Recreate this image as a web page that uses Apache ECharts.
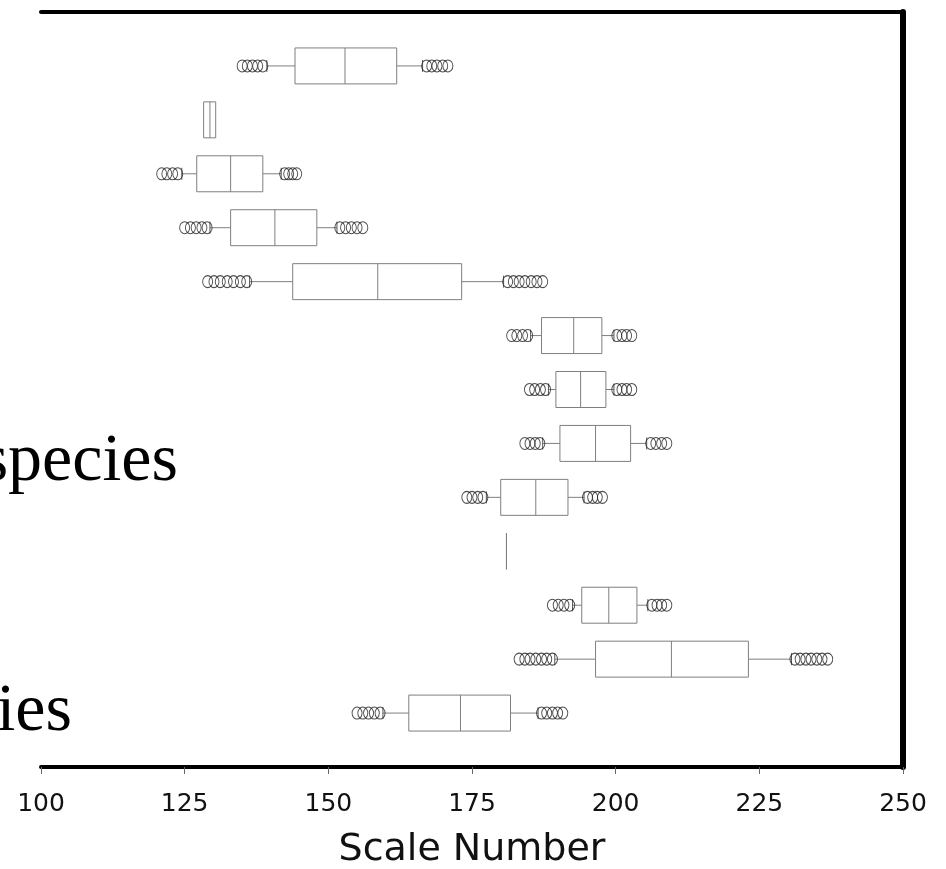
<!DOCTYPE html>
<html>
	<head>
		<meta http-equiv="Content-Type" content="text/html;charset=utf-8" />
		<title>Scale Number boxplot</title>
		<script src="https://cdn.jsdelivr.net/npm/echarts@6/dist/echarts.min.js"></script>
		<style>
			html, body { margin: 0; padding: 0; background: #fff; }
			#container { width: 946px; height: 869px; }
		</style>
	</head>
	<body>
		<div id="container"></div>
		<script type="text/javascript">
			// one row per box, top to bottom (row 1 .. 13 on the y scale)
			var lowWhisker  = [139.3, 128.3, 124.5, 129.4, 136.3, 185.2, 188.3, 187.3, 177.5, 181.0, 192.5, 189.4, 159.5];
			var q1          = [144.2, 128.3, 127.1, 133.0, 143.8, 187.1, 189.6, 190.3, 180.0, 181.0, 194.1, 196.5, 164.0];
			var median      = [152.9, 129.4, 133.0, 140.7, 158.6, 192.7, 193.9, 196.5, 186.1, 181.0, 198.8, 209.7, 173.0];
			var q3          = [161.9, 130.4, 138.6, 148.0, 173.2, 197.6, 198.3, 202.6, 191.7, 181.0, 203.7, 223.1, 181.7];
			var highWhisker = [166.4, 130.4, 141.8, 151.5, 180.5, 199.7, 199.7, 205.4, 194.5, 181.0, 205.6, 230.6, 186.5];

			var lowOutliers = [
				[135.0, 135.9, 136.8, 137.7, 138.6],
				[],
				[121.0, 121.9, 122.9, 123.8],
				[125.0, 126.0, 127.0, 128.0, 128.9],
				[129.0, 130.1, 131.2, 132.4, 133.5, 134.7, 135.8],
				[181.9, 182.8, 183.8, 184.7],
				[185.0, 185.9, 186.9, 187.8],
				[184.2, 185.1, 186.0, 186.8],
				[174.1, 175.0, 176.0, 176.9],
				[],
				[189.0, 190.0, 191.0, 192.0],
				[183.2, 184.2, 185.1, 186.1, 187.1, 188.0, 189.0],
				[155.0, 156.0, 157.0, 158.0, 159.0]
			];
			var highOutliers = [
				[167.1, 168.0, 168.9, 169.9, 170.8],
				[],
				[142.4, 143.1, 143.8, 144.5],
				[152.0, 153.0, 154.0, 155.0, 156.0],
				[181.2, 182.2, 183.2, 184.2, 185.3, 186.3, 187.3],
				[200.2, 201.1, 201.9, 202.8],
				[200.2, 201.1, 201.9, 202.8],
				[206.1, 207.0, 208.0, 208.9],
				[195.1, 196.0, 196.8, 197.7],
				[],
				[206.3, 207.2, 208.0, 208.9],
				[231.2, 232.1, 233.1, 234.0, 235.0, 235.9, 236.9],
				[187.1, 188.0, 189.0, 189.9, 190.8]
			];

			var xMin = 100, xMax = 250, xStep = 25;
			var rowCount = median.length;

			var boxData = [];
			var outlierData = [];
			for (var i = 0; i < rowCount; i++) {
				var row = i + 1;
				boxData.push([row, lowWhisker[i], q1[i], median[i], q3[i], highWhisker[i]]);
				lowOutliers[i].concat(highOutliers[i]).forEach(function (v) {
					outlierData.push([v, row]);
				});
			}

			var boxColor = '#7f7f7f';

			function renderBox(params, api) {
				var row = api.value(0);
				var cy = api.coord([api.value(3), row])[1];
				var h = api.size([0, 1])[1] * 0.667;
				var px = [];
				for (var k = 1; k <= 5; k++) {
					px.push(api.coord([api.value(k), row])[0]);
				}
				var st = { stroke: boxColor, lineWidth: 1, fill: null };
				var capSt = { stroke: '#555', lineWidth: 1 };
				var kids = [];
				if (px[0] < px[1]) {
					kids.push({ type: 'line', shape: { x1: px[0], y1: cy, x2: px[1], y2: cy }, style: st });
					kids.push({ type: 'line', shape: { x1: px[0], y1: cy - 6, x2: px[0], y2: cy + 6 }, style: capSt });
				}
				if (px[4] > px[3]) {
					kids.push({ type: 'line', shape: { x1: px[3], y1: cy, x2: px[4], y2: cy }, style: st });
					kids.push({ type: 'line', shape: { x1: px[4], y1: cy - 6, x2: px[4], y2: cy + 6 }, style: capSt });
				}
				kids.push({ type: 'rect', shape: { x: px[1], y: cy - h / 2, width: px[3] - px[1], height: h }, style: st });
				kids.push({ type: 'line', shape: { x1: px[2], y1: cy - h / 2, x2: px[2], y2: cy + h / 2 }, style: st });
				return { type: 'group', children: kids };
			}

			var dom = document.getElementById("container");
			var myChart = echarts.init(dom, null, { renderer: 'canvas' });

			var option = {
				backgroundColor: '#fff',
				animation: false,
				grid: { left: 41, right: 43, top: 12, bottom: 102, containLabel: false, outerBoundsMode: 'none' },
				xAxis: [{
					type: 'value',
					min: xMin,
					max: xMax,
					interval: xStep,
					position: 'bottom',
					name: 'Scale Number',
					nameLocation: 'middle',
					nameGap: 64,
					nameTextStyle: { fontFamily: 'DejaVu Sans', fontSize: 38, color: '#111' },
					axisLine: { show: true, onZero: false, lineStyle: { color: '#000', width: 4 } },
					axisTick: { show: true, inside: false, length: 7, lineStyle: { color: '#666', width: 1 } },
					axisLabel: { fontFamily: 'DejaVu Sans', fontSize: 25, color: '#111', margin: 25 },
					splitLine: { show: false }
				}, {
					type: 'value',
					min: xMin,
					max: xMax,
					position: 'top',
					axisLine: { show: true, onZero: false, lineStyle: { color: '#000', width: 4 } },
					axisTick: { show: false },
					axisLabel: { show: false },
					splitLine: { show: false }
				}],
				yAxis: [{
					type: 'value',
					min: 0,
					max: rowCount + 1,
					inverse: true,
					position: 'left',
					axisLine: { show: false, onZero: false },
					axisTick: { show: false },
					axisLabel: { show: false },
					splitLine: { show: false }
				}, {
					type: 'value',
					min: 0,
					max: rowCount + 1,
					inverse: true,
					position: 'right',
					axisLine: { show: true, onZero: false, lineStyle: { color: '#000', width: 6 } },
					axisTick: { show: false },
					axisLabel: { show: false },
					splitLine: { show: false }
				}],
				series: [{
					name: 'box',
					type: 'custom',
					xAxisIndex: 0,
					yAxisIndex: 0,
					renderItem: renderBox,
					encode: { x: [1, 2, 3, 4, 5], y: 0 },
					data: boxData,
					silent: true
				}, {
					name: 'outliers',
					type: 'scatter',
					xAxisIndex: 0,
					yAxisIndex: 0,
					symbol: 'circle',
					symbolSize: [10, 12],
					itemStyle: { color: 'transparent', borderColor: '#222', borderWidth: 1 },
					data: outlierData,
					silent: true
				}],
				graphic: [{
					type: 'text',
					right: 946 - 178,
					top: 428,
					style: { text: 'species', font: '68px "Liberation Serif"', fill: '#000' }
				}, {
					type: 'text',
					right: 946 - 72,
					top: 678,
					style: { text: 'ies', font: '68px "Liberation Serif"', fill: '#000' }
				}]
			};

			myChart.setOption(option, true);
		</script>
	</body>
</html>
